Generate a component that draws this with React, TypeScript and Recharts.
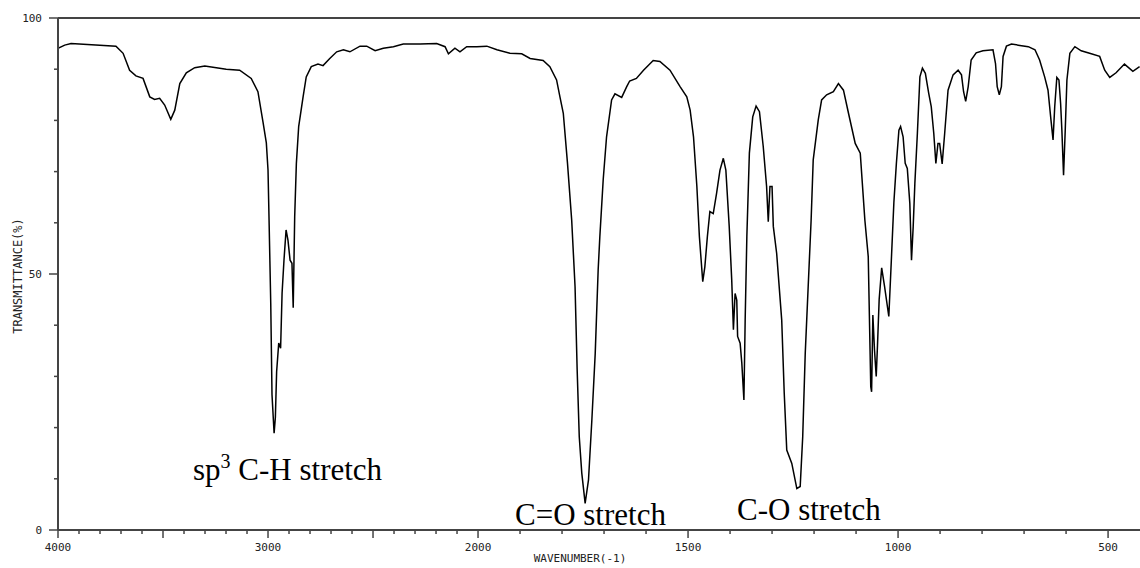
import React from 'react';
import { LineChart, Line, XAxis, YAxis, ReferenceLine } from 'recharts';

// wavenumber (cm-1), high to low
const WAVENUMBER = [
  4000, 3968, 3938, 3801, 3724, 3690, 3659, 3629, 3595, 3563, 3540, 3516, 3492, 3463, 3444, 3420,
  3389, 3349, 3301, 3199, 3135, 3080, 3048, 3024, 3008, 3000, 2995, 2987, 2981, 2971, 2965, 2959,
  2949, 2940, 2933, 2924, 2914, 2905, 2895, 2886, 2880, 2873, 2865, 2854, 2833, 2818, 2794, 2762,
  2738, 2706, 2673, 2641, 2610, 2562, 2530, 2490, 2451, 2403, 2356, 2276, 2197, 2157, 2141, 2110,
  2086, 2054, 2006, 1979, 1955, 1924, 1896, 1876, 1845, 1829, 1813, 1805, 1797, 1787, 1777, 1769,
  1764, 1759, 1753, 1745, 1737, 1729, 1721, 1714, 1710, 1702, 1694, 1682, 1674, 1658, 1646, 1639,
  1623, 1606, 1583, 1567, 1543, 1519, 1503, 1495, 1487, 1479, 1473, 1465, 1460, 1454, 1448, 1440,
  1432, 1424, 1416, 1410, 1402, 1396, 1392, 1388, 1384, 1382, 1376, 1372, 1367, 1364, 1360, 1354,
  1346, 1338, 1330, 1321, 1313, 1309, 1305, 1300, 1297, 1289, 1277, 1271, 1265, 1253, 1241, 1233,
  1227, 1221, 1214, 1207, 1202, 1190, 1182, 1170, 1154, 1142, 1130, 1118, 1102, 1090, 1079, 1071,
  1065, 1063, 1060, 1056, 1052, 1049, 1045, 1039, 1032, 1022, 1016, 1010, 1004, 998, 994, 988,
  983, 978, 972, 968, 964, 960, 954, 948, 942, 935, 927, 921, 915, 910, 905, 901,
  895, 889, 881, 869, 857, 849, 844, 839, 833, 826, 814, 798, 774, 768, 764, 759,
  754, 750, 742, 730, 714, 690, 674, 663, 651, 643, 636, 631, 627, 622, 617, 613,
  610, 606, 602, 598, 591, 579, 564, 544, 520, 508, 496, 481, 461, 441, 425,
];

// transmittance (%)
const TRANSMITTANCE = [
  94.1, 94.7, 95.0, 94.7, 94.5, 93.1, 89.8, 88.7, 88.2, 84.6, 84.1, 84.3, 83.0, 80.2, 82.0, 87.2,
  89.3, 90.3, 90.6, 90.0, 89.8, 88.2, 85.6, 79.7, 75.6, 70.3, 60.5, 44.3, 26.4, 18.9, 22.0, 30.9,
  36.5, 35.5, 46.3, 52.7, 58.6, 56.6, 52.7, 52.1, 43.4, 61.2, 71.6, 78.8, 84.6, 88.5, 90.5, 91.0,
  90.7, 92.1, 93.4, 93.8, 93.4, 94.5, 94.5, 93.6, 94.1, 94.4, 94.9, 94.9, 95.0, 94.4, 93.0, 94.1,
  93.4, 94.4, 94.4, 94.5, 93.8, 93.1, 93.0, 92.1, 91.7, 90.5, 87.9, 84.6, 81.4, 71.6, 60.5, 47.5,
  31.3, 18.2, 11.1, 5.2, 9.8, 21.5, 34.5, 50.8, 57.3, 68.4, 76.8, 84.0, 85.2, 84.5, 86.6, 87.7,
  88.2, 89.8, 91.7, 91.5, 89.8, 86.6, 84.6, 82.0, 76.8, 67.1, 57.3, 48.5, 51.4, 57.3, 62.2, 61.8,
  65.8, 70.3, 72.6, 70.3, 59.3, 48.8, 39.1, 46.2, 44.9, 37.8, 36.5, 32.6, 25.4, 41.0, 57.3, 73.6,
  80.7, 82.8, 81.7, 74.9, 67.1, 60.2, 67.1, 67.1, 59.3, 54.0, 41.0, 26.7, 15.6, 13.0, 8.1, 8.5,
  18.2, 34.5, 47.5, 60.5, 72.3, 80.1, 84.0, 85.0, 85.6, 87.2, 85.9, 81.4, 75.5, 73.6, 60.5, 53.4,
  28.0, 27.0, 42.0, 35.0, 30.0, 36.0, 45.0, 51.2, 47.5, 41.7, 52.7, 63.9, 71.6, 78.1, 78.8, 76.8,
  71.6, 70.6, 63.8, 52.7, 59.2, 67.7, 77.5, 88.5, 90.2, 89.2, 85.3, 82.7, 77.5, 71.6, 75.5, 75.5,
  71.5, 77.5, 85.9, 88.9, 89.8, 88.9, 85.6, 83.7, 86.6, 91.8, 93.2, 93.6, 93.8, 91.1, 86.6, 85.0,
  86.6, 92.5, 94.5, 94.9, 94.7, 94.4, 93.8, 91.8, 88.5, 85.9, 80.1, 76.2, 82.7, 88.4, 87.9, 83.3,
  78.1, 69.3, 78.1, 87.9, 93.1, 94.4, 93.6, 93.1, 92.5, 89.8, 88.4, 89.3, 91.0, 89.6, 90.5,
];

const X_LABELS = [4000, 3000, 2000, 1500, 1000, 500];
const Y_LABELS = [0, 50, 100];
const Y_TICKS = [0, 10, 20, 30, 40, 50, 60, 70, 80, 90, 100];

// every 100 cm-1 from 4000 down to 500
const X_TICK_WN: number[] = [];
for (let w = 4000; w >= 500; w -= 100) X_TICK_WN.push(w);

// the spectrometer plots 4000-2000 at half the scale of 2000-400
const toPos = (wn: number) => (wn >= 2000 ? (4000 - wn) / 2 : 1000 + (2000 - wn));
const fromPos = (p: number) => Math.round(p <= 1000 ? 4000 - p * 2 : 2000 - (p - 1000));

const data = WAVENUMBER.map((wn, i) => ({ pos: toPos(wn), t: TRANSMITTANCE[i] }));

const AXIS = '#444';
const MONO = '"DejaVu Sans Mono", monospace';
const PLOT_LEFT = 58;
const PLOT_BOTTOM = 530;

const XTick = (props: any) => {
  const { x, payload } = props;
  const wn = fromPos(payload.value);
  const major = wn % 500 === 0;
  const y = PLOT_BOTTOM;
  return (
    <g>
      <line x1={x} x2={x} y1={y} y2={y + (major ? 8 : 4)} stroke={AXIS} strokeWidth={1.5} />
      {X_LABELS.includes(wn) && (
        <text x={x} y={y + 21} textAnchor="middle" fontFamily={MONO} fontSize={11} fill="#222">
          {wn}
        </text>
      )}
    </g>
  );
};

const YTick = (props: any) => {
  const { y, payload } = props;
  const major = Y_LABELS.includes(payload.value);
  const x = PLOT_LEFT;
  return (
    <g>
      <line x1={x} x2={x - (major ? 9 : 4)} y1={y} y2={y} stroke={AXIS} strokeWidth={1.5} />
      {major && (
        <text x={x - 16} y={y + 4} textAnchor="end" fontFamily={MONO} fontSize={11} fill="#222">
          {payload.value}
        </text>
      )}
    </g>
  );
};

const serif = { fontFamily: '"Liberation Serif", "Times New Roman", serif', fontSize: 31, fill: '#000' };

export default function App() {
  return (
    <div style={{ position: 'absolute', left: 0, top: 0, width: 1140, height: 568, background: '#fff' }}>
      <LineChart width={1140} height={568} data={data} margin={{ top: 18, right: 0, left: 0, bottom: 0 }}>
        <XAxis
          dataKey="pos"
          type="number"
          domain={[0, 2576]}
          ticks={X_TICK_WN.map(toPos)}
          height={38}
          tickSize={0}
          tickMargin={0}
          tickLine={false}
          axisLine={{ stroke: AXIS, strokeWidth: 2 }}
          tick={<XTick />}
          interval={0}
          allowDataOverflow
        />
        <YAxis
          type="number"
          domain={[0, 100]}
          ticks={Y_TICKS}
          width={58}
          tickSize={0}
          tickMargin={0}
          tickLine={false}
          axisLine={{ stroke: AXIS, strokeWidth: 2 }}
          tick={<YTick />}
          interval={0}
        />
        <ReferenceLine y={100} stroke={AXIS} strokeWidth={2} />
        <Line
          dataKey="t"
          type="linear"
          stroke="#000"
          strokeWidth={1.5}
          dot={false}
          isAnimationActive={false}
        />
      </LineChart>
      <svg width={1140} height={568} style={{ position: 'absolute', left: 0, top: 0, pointerEvents: 'none' }}>
        <text x={18} y={276} transform="rotate(-90 18 276)" textAnchor="middle" dominantBaseline="middle"
          fontFamily={MONO} fontSize={12} fill="#222">
          TRANSMITTANCE(%)
        </text>
        <text x={580} y={562} textAnchor="middle" fontFamily={MONO} fontSize={11} fill="#222">
          WAVENUMBER(-1)
        </text>
        <text x={193} y={480} {...serif}>
          sp<tspan fontSize={20} dy={-12}>3</tspan>
          <tspan dy={12}> C-H stretch</tspan>
        </text>
        <text x={515} y={525} {...serif}>C=O stretch</text>
        <text x={737} y={520} {...serif}>C-O stretch</text>
      </svg>
    </div>
  );
}
